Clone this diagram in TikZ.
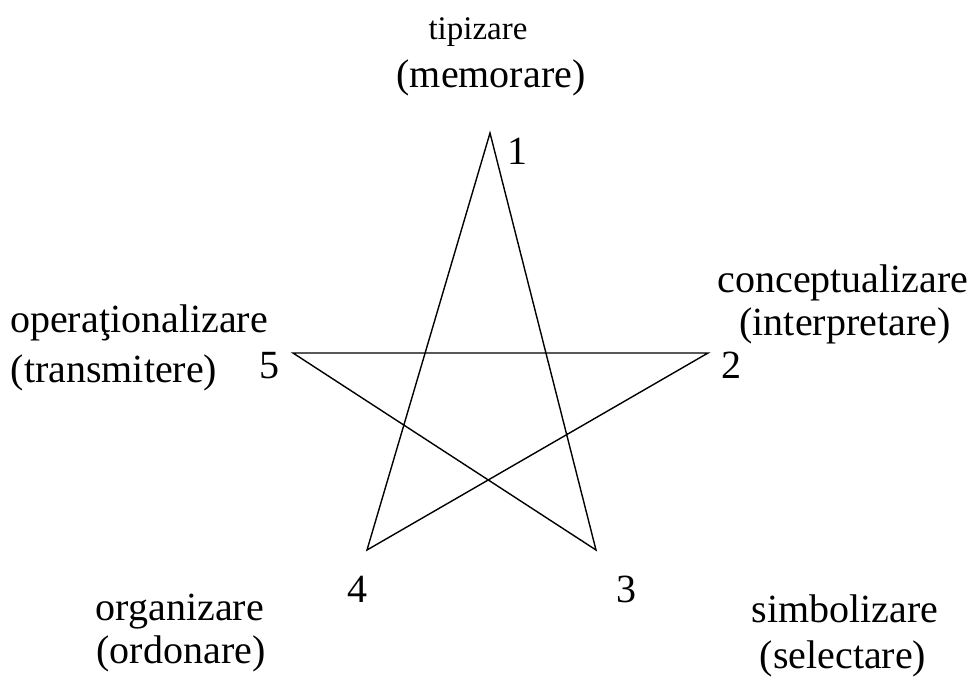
\documentclass[tikz,border=0pt]{standalone}
\usepackage{fontspec}
\setmainfont{Liberation Serif}
\begin{document}
\begin{tikzpicture}[x=1pt,y=-1pt,
  lbl/.style={anchor=base,inner sep=0pt,font=\fontsize{40}{48}\selectfont},
  smalllbl/.style={anchor=base,inner sep=0pt,font=\fontsize{33}{40}\selectfont},
  edge/.style={line width=1.4pt}]
\useasboundingbox (0,0) rectangle (971,679);
\coordinate (v1) at (490,133);
\coordinate (v2) at (708,353);
\coordinate (v3) at (596,550);
\coordinate (v4) at (367,550);
\coordinate (v5) at (293,353);
\draw[edge] (v1) -- (v3) -- (v5) -- (v2) -- (v4) -- cycle;
\node[lbl] (n1) at (517,165) {1};
\node[lbl] (n2) at (731,378) {2};
\node[lbl] (n3) at (626,602) {3};
\node[lbl] (n4) at (357,602) {4};
\node[lbl] (n5) at (269,378) {5};
\node[smalllbl] (t1a) at (478,40) {tipizare};
\node[lbl] (t1b) at (491,88) {(memorare)};
\node[lbl] (t2a) at (843,292) {conceptualizare};
\node[lbl] (t2b) at (845,335) {(interpretare)};
\node[lbl] (t5a) at (139,332) {operaţionalizare};
\node[lbl] (t5b) at (114,382) {(transmitere)};
\node[lbl] (t4a) at (180,620) {organizare};
\node[lbl] (t4b) at (181,663) {(ordonare)};
\node[lbl] (t3a) at (845,622) {simbolizare};
\node[lbl] (t3b) at (843,668) {(selectare)};
\end{tikzpicture}
\end{document}
